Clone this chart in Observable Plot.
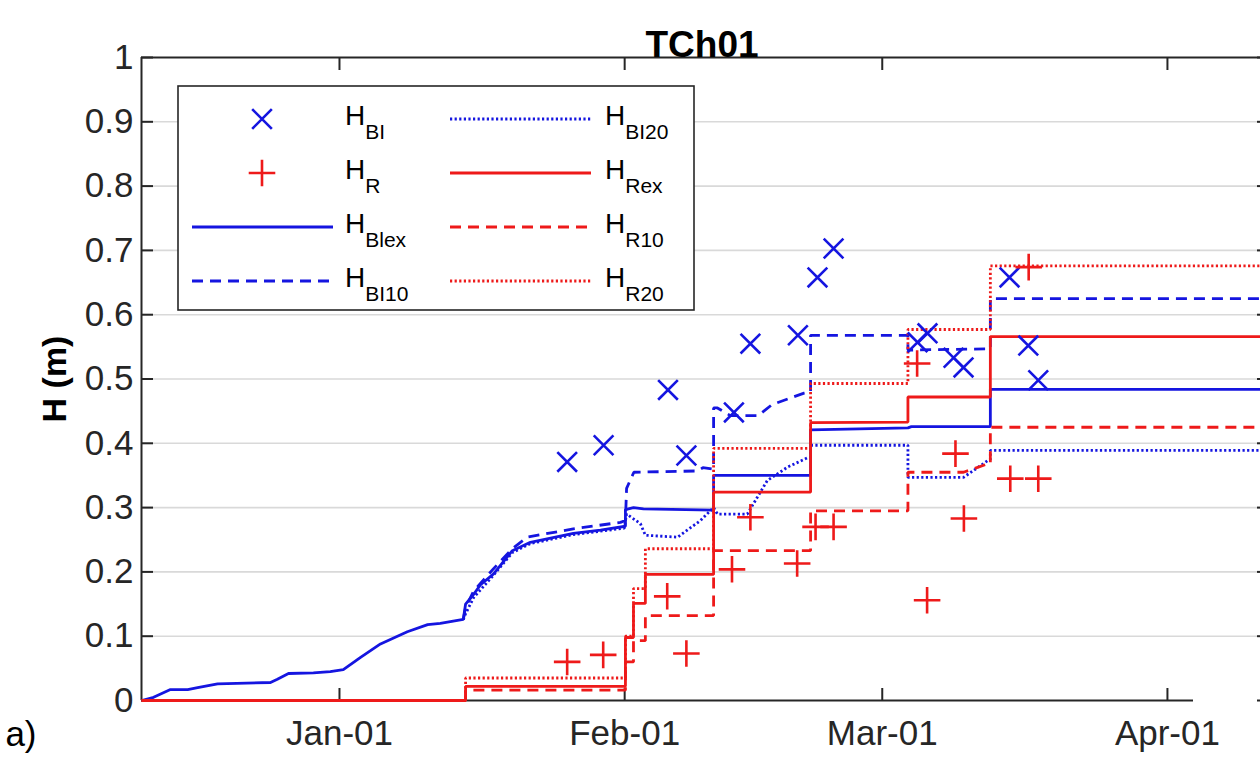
<!DOCTYPE html>
<html>
<head>
<meta charset="utf-8">
<script src="https://cdn.jsdelivr.net/npm/d3@7"></script>
<script src="https://cdn.jsdelivr.net/npm/@observablehq/plot@0.6"></script>
<style>
  body { margin: 0; background: #fff; }
  #wrap { position: relative; width: 1260px; height: 758px; overflow: hidden; font-family: "Liberation Sans", Arial, sans-serif; }
  #legend { position: absolute; left: 177px; top: 85px; }
</style>
</head>
<body>
<div id="wrap"></div>
<script>
// ---------- data ----------
const xDomainDates = ["2018-12-10T11:30Z", "2019-04-11T08:00Z"];
const bottomAxisEnd = "2019-04-03T20:00Z";
const xTickDates = ["2019-01-01T00:00Z", "2019-02-01T00:00Z", "2019-03-01T00:00Z", "2019-04-01T00:00Z"];
const xTickLabels = ["Jan-01", "Feb-01", "Mar-01", "Apr-01"];
const yTicks = [0, 0.1, 0.2, 0.3, 0.4, 0.5, 0.6, 0.7, 0.8, 0.9, 1];
const yTickLabels = ["0", "0.1", "0.2", "0.3", "0.4", "0.5", "0.6", "0.7", "0.8", "0.9", "1"];
const gridValues = [0.1, 0.2, 0.3, 0.4, 0.5, 0.6, 0.7, 0.8, 0.9];

// H_BI (blue x markers)
const HBI_dates = ["2019-01-25T18:00Z","2019-01-29T17:00Z","2019-02-05T17:00Z","2019-02-07T17:00Z","2019-02-12T21:00Z","2019-02-14T16:00Z","2019-02-19T20:00Z","2019-02-21T23:00Z","2019-02-23T17:00Z","2019-03-04T20:00Z","2019-03-05T22:00Z","2019-03-08T18:00Z","2019-03-09T20:00Z","2019-03-14T20:00Z","2019-03-16T21:00Z","2019-03-17T23:00Z"];
const HBI_values = [0.371,0.397,0.483,0.381,0.448,0.555,0.568,0.658,0.703,0.557,0.571,0.533,0.518,0.658,0.552,0.498];

// H_R (red + markers)
const HR_dates = ["2019-01-25T18:00Z","2019-01-29T16:00Z","2019-02-05T15:00Z","2019-02-07T17:00Z","2019-02-12T16:00Z","2019-02-14T16:00Z","2019-02-19T18:00Z","2019-02-21T18:00Z","2019-02-23T17:00Z","2019-03-04T19:00Z","2019-03-05T21:00Z","2019-03-08T23:00Z","2019-03-09T21:00Z","2019-03-14T22:00Z","2019-03-16T22:00Z","2019-03-17T23:00Z"];
const HR_values = [0.060,0.071,0.162,0.073,0.204,0.285,0.213,0.270,0.270,0.524,0.156,0.384,0.283,0.345,0.674,0.345];

// H_Blex (blue solid)
const HBlex = [
["2018-12-10T12:00Z",0.000],["2018-12-11T19:00Z",0.005],["2018-12-13T15:00Z",0.017],["2018-12-15T12:00Z",0.017],
["2018-12-16T14:00Z",0.020],["2018-12-18T18:00Z",0.026],["2018-12-24T12:00Z",0.028],["2018-12-25T06:00Z",0.033],
["2018-12-26T11:00Z",0.042],["2018-12-29T04:00Z",0.043],["2018-12-31T00:00Z",0.045],["2019-01-01T10:00Z",0.048],
["2019-01-03T07:00Z",0.067],["2019-01-05T11:00Z",0.088],["2019-01-08T09:00Z",0.107],["2019-01-10T14:00Z",0.118],
["2019-01-11T23:00Z",0.120],["2019-01-14T11:00Z",0.126],["2019-01-14T17:00Z",0.150],["2019-01-15T14:00Z",0.165],
["2019-01-16T08:00Z",0.180],["2019-01-17T18:00Z",0.197],["2019-01-19T19:00Z",0.233],["2019-01-21T18:00Z",0.246],
["2019-01-26T10:00Z",0.260],["2019-01-29T09:00Z",0.265],["2019-02-01T02:00Z",0.271],["2019-02-01T02:00Z",0.297],
["2019-02-01T23:00Z",0.300],["2019-02-03T01:00Z",0.298],["2019-02-10T16:00Z",0.296],["2019-02-10T16:00Z",0.350],
["2019-02-21T05:00Z",0.350],["2019-02-21T05:00Z",0.421],["2019-03-03T19:00Z",0.424],["2019-03-04T04:00Z",0.426],
["2019-03-12T18:00Z",0.426],["2019-03-12T18:00Z",0.484],["2019-04-11T08:00Z",0.484]];

// H_BI10 (blue dashed)
const HBI10 = [
["2019-01-14T11:00Z",0.126],["2019-01-14T17:00Z",0.145],["2019-01-15T14:00Z",0.170],["2019-01-17T18:00Z",0.205],
["2019-01-19T19:00Z",0.236],["2019-01-21T10:00Z",0.254],["2019-01-26T10:00Z",0.267],["2019-01-31T13:00Z",0.277],
["2019-02-01T02:00Z",0.280],["2019-02-01T05:00Z",0.330],["2019-02-02T00:00Z",0.355],["2019-02-08T22:00Z",0.357],
["2019-02-09T12:00Z",0.362],["2019-02-10T16:00Z",0.360],["2019-02-10T16:00Z",0.455],["2019-02-11T02:00Z",0.455],
["2019-02-12T12:00Z",0.443],["2019-02-15T12:00Z",0.443],["2019-02-17T00:00Z",0.460],["2019-02-20T12:00Z",0.478],
["2019-02-21T05:00Z",0.480],["2019-02-21T05:00Z",0.568],["2019-03-03T19:00Z",0.568],["2019-03-03T19:00Z",0.545],
["2019-03-12T18:00Z",0.547],["2019-03-12T18:00Z",0.625],["2019-04-11T08:00Z",0.625]];

// H_BI20 (blue dotted)
const HBI20 = [
["2019-01-14T11:00Z",0.126],["2019-01-14T17:00Z",0.135],["2019-01-15T14:00Z",0.160],["2019-01-17T18:00Z",0.195],
["2019-01-19T19:00Z",0.230],["2019-01-21T18:00Z",0.244],["2019-01-26T10:00Z",0.258],["2019-01-31T23:00Z",0.268],
["2019-02-01T05:00Z",0.290],["2019-02-02T17:00Z",0.275],["2019-02-03T06:00Z",0.257],["2019-02-06T18:00Z",0.254],
["2019-02-09T06:00Z",0.280],["2019-02-10T16:00Z",0.300],["2019-02-11T02:00Z",0.290],["2019-02-14T08:00Z",0.290],
["2019-02-16T12:00Z",0.342],["2019-02-18T17:00Z",0.363],["2019-02-20T23:00Z",0.378],["2019-02-21T05:00Z",0.378],
["2019-02-21T05:00Z",0.397],["2019-03-03T19:00Z",0.397],["2019-03-03T19:00Z",0.347],["2019-03-09T20:00Z",0.347],
["2019-03-12T11:00Z",0.373],["2019-03-12T18:00Z",0.375],["2019-03-12T18:00Z",0.389],["2019-04-11T08:00Z",0.389]];

// H_Rex (red solid)
const HRex = [
["2018-12-10T12:00Z",0],["2019-01-14T17:00Z",0],["2019-01-14T17:00Z",0.022],["2019-02-01T02:00Z",0.022],
["2019-02-01T02:00Z",0.098],["2019-02-01T23:00Z",0.098],["2019-02-01T23:00Z",0.151],["2019-02-03T06:00Z",0.151],
["2019-02-03T06:00Z",0.196],["2019-02-10T16:00Z",0.196],["2019-02-10T16:00Z",0.324],["2019-02-21T05:00Z",0.324],
["2019-02-21T05:00Z",0.432],["2019-03-03T19:00Z",0.433],["2019-03-03T19:00Z",0.472],["2019-03-12T18:00Z",0.472],
["2019-03-12T18:00Z",0.566],["2019-04-11T08:00Z",0.566]];

// H_R10 (red dashed)
const HR10 = [
["2018-12-10T12:00Z",0],["2019-01-14T17:00Z",0],["2019-01-14T17:00Z",0.016],["2019-02-01T02:00Z",0.016],
["2019-02-01T02:00Z",0.060],["2019-02-01T23:00Z",0.060],["2019-02-01T23:00Z",0.093],["2019-02-03T06:00Z",0.093],
["2019-02-03T06:00Z",0.132],["2019-02-10T16:00Z",0.132],["2019-02-10T16:00Z",0.233],["2019-02-21T05:00Z",0.233],
["2019-02-21T05:00Z",0.295],["2019-03-03T19:00Z",0.295],["2019-03-03T19:00Z",0.355],["2019-03-09T20:00Z",0.355],
["2019-03-12T11:00Z",0.368],["2019-03-12T18:00Z",0.368],["2019-03-12T18:00Z",0.425],["2019-04-11T08:00Z",0.425]];

// H_R20 (red dotted)
const HR20 = [
["2018-12-10T12:00Z",0],["2019-01-14T17:00Z",0],["2019-01-14T17:00Z",0.035],["2019-02-01T02:00Z",0.035],
["2019-02-01T02:00Z",0.100],["2019-02-01T23:00Z",0.100],["2019-02-01T23:00Z",0.174],["2019-02-03T06:00Z",0.174],
["2019-02-03T06:00Z",0.236],["2019-02-10T16:00Z",0.236],["2019-02-10T16:00Z",0.392],["2019-02-21T05:00Z",0.392],
["2019-02-21T05:00Z",0.493],["2019-03-03T19:00Z",0.493],["2019-03-03T19:00Z",0.577],["2019-03-12T18:00Z",0.577],
["2019-03-12T18:00Z",0.676],["2019-04-11T08:00Z",0.676]];

const titleText = "TCh01";
const yLabel = "H (m)";
const panelLabel = "a)";
const legendMain = "H";
const legendSubs = ["BI", "R", "Blex", "BI10", "BI20", "Rex", "R10", "R20"];

// ---------- styles ----------
const BLUE = "#1515e0", RED = "#ee1a1a", INK = "#262626";
const DASH = "11,7", DOT = "2.2,2.4";
const legendStyles = [
  {kind: "times", color: BLUE}, {kind: "plus", color: RED},
  {kind: "line", color: BLUE, dash: null}, {kind: "line", color: BLUE, dash: DASH},
  {kind: "line", color: BLUE, dash: DOT}, {kind: "line", color: RED, dash: null},
  {kind: "line", color: RED, dash: DASH}, {kind: "line", color: RED, dash: DOT}
];

// ---------- build ----------
const toDate = s => new Date(s);
const xDomain = xDomainDates.map(toDate);
const xTicks = xTickDates.map(toDate);
const xFmt = d => xTickLabels[xTicks.findIndex(t => +t === +d)] ?? "";
const yFmt = d => yTickLabels[yTicks.findIndex(t => Math.abs(t - d) < 1e-9)] ?? "";
const rows = series => series.map(([t, v]) => ({date: toDate(t), value: v}));
const pts = (dates, values) => dates.map((t, i) => ({date: toDate(t), value: values[i]}));

const lineOpts = (color, dash) => ({x: "date", y: "value", stroke: color, strokeWidth: 2.8, strokeDasharray: dash ?? undefined, strokeLinejoin: "miter", strokeLinecap: "butt"});

const chart = Plot.plot({
  width: 1260, height: 758,
  marginLeft: 141, marginRight: -2, marginTop: 57, marginBottom: 58,
  style: {fontFamily: '"Liberation Sans", Arial, sans-serif', fontSize: "35px", color: INK, background: "white", overflow: "hidden"},
  x: {type: "utc", domain: xDomain},
  y: {domain: [0, 1]},
  marks: [
    Plot.gridY(gridValues, {stroke: "#d9d9d9", strokeOpacity: 1, strokeWidth: 1.6}),
    Plot.axisY({ticks: yTicks, tickSize: 0, tickPadding: 8, tickFormat: yFmt, label: null, fontSize: 35}),
    Plot.axisY({ticks: yTicks, tickSize: -12, tickFormat: () => "", label: null, strokeWidth: 2}),
    Plot.axisY({anchor: "right", ticks: yTicks, tickSize: -6, tickFormat: () => "", label: null, strokeWidth: 2}),
    Plot.axisX({ticks: xTicks, tickSize: 0, tickPadding: 20, tickFormat: xFmt, label: null, fontSize: 35}),
    Plot.axisX({ticks: xTicks, tickSize: -12, tickFormat: () => "", label: null, strokeWidth: 2}),
    Plot.axisX({anchor: "top", ticks: xTicks, tickSize: -12, tickFormat: () => "", label: null, strokeWidth: 2}),
    Plot.ruleY([1], {stroke: INK, strokeWidth: 2}),
    Plot.ruleX([0], {x: () => xDomain[0], y1: 0, y2: 1, stroke: INK, strokeWidth: 2}),
    Plot.ruleY([0], {x1: () => xDomain[0], x2: () => toDate(bottomAxisEnd), stroke: INK, strokeWidth: 2}),
    Plot.line(rows(HBI20), lineOpts(BLUE, DOT)),
    Plot.line(rows(HBI10), lineOpts(BLUE, DASH)),
    Plot.line(rows(HBlex), lineOpts(BLUE, null)),
    Plot.line(rows(HR20), lineOpts(RED, DOT)),
    Plot.line(rows(HR10), lineOpts(RED, DASH)),
    Plot.line(rows(HRex), lineOpts(RED, null)),
    Plot.dot(pts(HBI_dates, HBI_values), {x: "date", y: "value", symbol: "times", r: 9, stroke: BLUE, fill: "none", strokeWidth: 2.6}),
    Plot.dot(pts(HR_dates, HR_values), {x: "date", y: "value", symbol: "plus", r: 8.6, stroke: RED, fill: "none", strokeWidth: 2.6}),
    Plot.text([titleText], {text: d => d, frameAnchor: "top", dy: -27, fontSize: 37, fontWeight: "bold", fill: "#000", textAnchor: "middle"}),
    Plot.text([yLabel], {text: d => d, frameAnchor: "left", rotate: -90, dx: -86, fontSize: 34, fontWeight: "bold", fill: "#000", textAnchor: "middle"}),
    Plot.text([panelLabel], {text: d => d, frameAnchor: "bottom-left", dx: -105, dy: 45, textAnchor: "end", fontSize: 35, fill: "#000"})
  ]
});

const wrap = document.getElementById("wrap");
wrap.appendChild(chart);

// ---------- legend (inside plot area, top-left) ----------
const ns = "http://www.w3.org/2000/svg";
const LW = 518, LH = 226;
const leg = document.createElementNS(ns, "svg");
leg.setAttribute("id", "legend");
leg.setAttribute("width", LW);
leg.setAttribute("height", LH);
const el = (name, attrs, parent) => { const e = document.createElementNS(ns, name); for (const k in attrs) e.setAttribute(k, attrs[k]); parent.appendChild(e); return e; };
el("rect", {x: 1, y: 1, width: LW - 2, height: LH - 2, fill: "white", stroke: INK, "stroke-width": 1.6}, leg);
const colGeom = [{mark: 85, l1: 15, l2: 156, text: 168}, {mark: 343, l1: 273, l2: 414, text: 428}];
const symTimes = d3.symbol(d3.symbolTimes, 9 * 9 * Math.PI)();
const symPlus = d3.symbol(d3.symbolPlus, 8.6 * 8.6 * Math.PI)();
legendSubs.forEach((sub, i) => {
  const col = Math.floor(i / 4), row = i % 4;
  const g = colGeom[col];
  const cy = 34 + row * 54;
  const st = legendStyles[i];
  if (st.kind === "line") {
    const ln = el("line", {x1: g.l1, x2: g.l2, y1: cy, y2: cy, stroke: st.color, "stroke-width": 2.8}, leg);
    if (st.dash) ln.setAttribute("stroke-dasharray", st.dash);
  } else {
    el("path", {d: st.kind === "times" ? symTimes : symPlus, transform: `translate(${g.mark},${cy})`, fill: "none", stroke: st.color, "stroke-width": 2.6}, leg);
  }
  const t = el("text", {x: g.text, y: cy + 6, "font-size": 28, fill: "#000", "font-family": '"Liberation Sans", Arial, sans-serif'}, leg);
  t.appendChild(document.createTextNode(legendMain));
  const ts = el("tspan", {dy: 14, "font-size": 21}, t);
  ts.appendChild(document.createTextNode(sub));
});
wrap.appendChild(leg);
</script>
</body>
</html>
